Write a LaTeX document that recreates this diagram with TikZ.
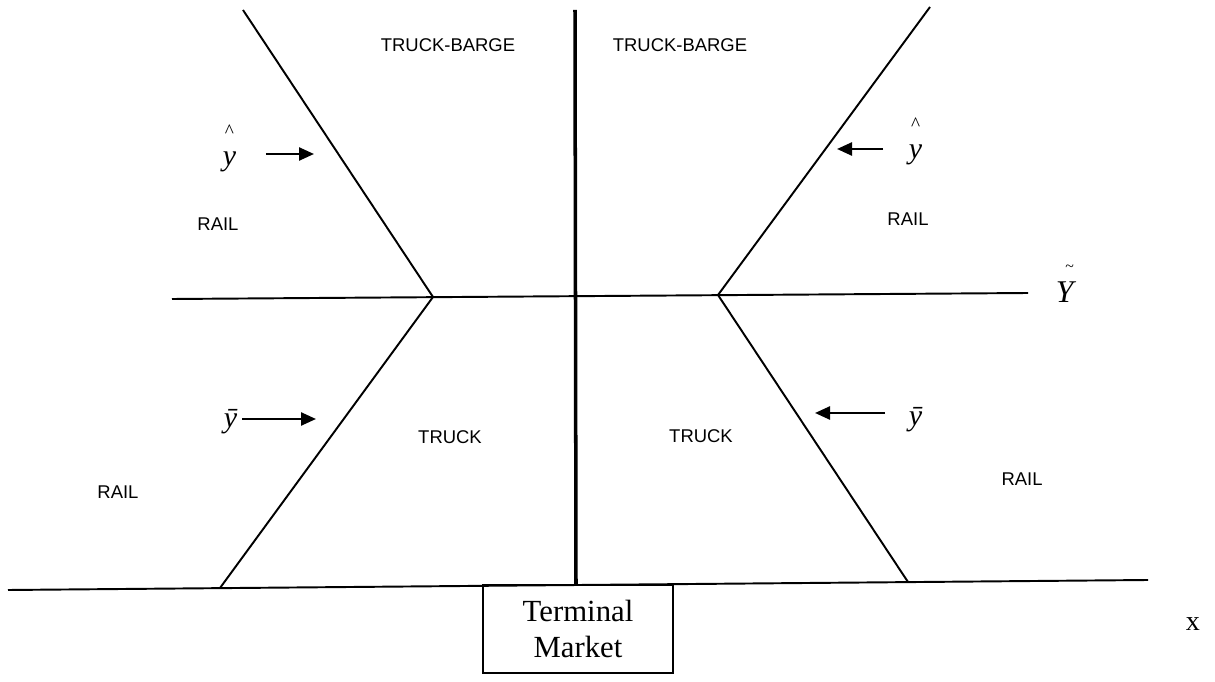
\documentclass[tikz,border=0pt]{standalone}
\usepackage{fontspec}
\setmainfont{Liberation Serif}
\newfontfamily\zonefont{Liberation Sans}
\usetikzlibrary{arrows.meta}

\begin{document}
\begin{tikzpicture}[x=0.02cm, y=-0.02cm, line width=1.1pt,
  zone/.style={font=\zonefont\fontsize{10.5}{12}\selectfont, inner sep=0pt},
  var/.style={font=\fontsize{17}{17}\selectfont\itshape, inner sep=0pt},
  hatmark/.style={font=\fontsize{11}{11}\selectfont, inner sep=0pt, label distance=7.5pt},
  tip/.style={-{Triangle[length=0.3cm,width=0.26cm]}, line width=1.4pt},
  market/.style={draw, line width=1.1pt, minimum width=3.8cm, minimum height=1.76cm, align=center, inner sep=0pt, font=\fontsize{17.5}{20}\selectfont}]
\useasboundingbox (0,0) rectangle (1215,682);
% axes
\coordinate (ctop) at (575,10);
\coordinate (cbot) at (576,585);
\coordinate (hl) at (172,299);
\coordinate (hr) at (1028,293);
\coordinate (bl) at (8,590);
\coordinate (br) at (1148,580);
% boundaries between modes
\coordinate (lv) at (433,297);
\coordinate (rv) at (718,295);
\coordinate (ltop) at (243,10);
\coordinate (lbot) at (220,588);
\coordinate (rtop) at (930,7);
\coordinate (rbot) at (908,582);
\draw (hl) -- (hr);
\draw (bl) -- (br);
\draw[line width=2pt] (ctop) -- (cbot);
\draw (ltop) -- (lv) -- (lbot);
\draw (rtop) -- (rv) -- (rbot);

\node[market] (tm) at (578,629) {Terminal\\Market};
\node[font=\fontsize{16}{16}\selectfont] (xax) at (1193,624) {x};
\node[var, font=\fontsize{18}{18}\selectfont\itshape, anchor=base west,
  label={[hatmark, label distance=4.8pt, xshift=0.1cm, font=\fontsize{9}{9}\selectfont]above:\textasciitilde}] (ytl) at (1055,303) {Y};

% zones
\node[zone] (tb1) at (448,45) {TRUCK-BARGE};
\node[zone] (tb2) at (680,45) {TRUCK-BARGE};
\node[zone] (r1) at (218,224) {RAIL};
\node[zone] (r2) at (908,219) {RAIL};
\node[zone] (t1) at (450,437) {TRUCK};
\node[zone] (t2) at (701,436) {TRUCK};
\node[zone] (r3) at (118,492) {RAIL};
\node[zone] (r4) at (1022,479) {RAIL};

% critical sizes
\node[var, anchor=base east, label={[hatmark]above:\textasciicircum}] (yh1) at (237,166) {y};
\coordinate (e1) at (314,154);
\draw[tip, shorten <=0.58cm] (yh1.east |- e1) -- (e1);

\node[var, anchor=base west, label={[hatmark]above:\textasciicircum}] (yh2) at (908,159) {y};
\coordinate (e2) at (837,149);
\draw[tip, shorten <=0.5cm] (yh2.west |- e2) -- (e2);

\node[var, anchor=base east] (yb1) at (238,428) {\={y}};
\coordinate (e3) at (316,419);
\draw[tip, shorten <=0.08cm] (yb1.east |- e3) -- (e3);

\node[var, anchor=base west] (yb2) at (908,426) {\={y}};
\coordinate (e4) at (815,413);
\draw[tip, shorten <=0.46cm] (yb2.west |- e4) -- (e4);
\end{tikzpicture}
\end{document}
